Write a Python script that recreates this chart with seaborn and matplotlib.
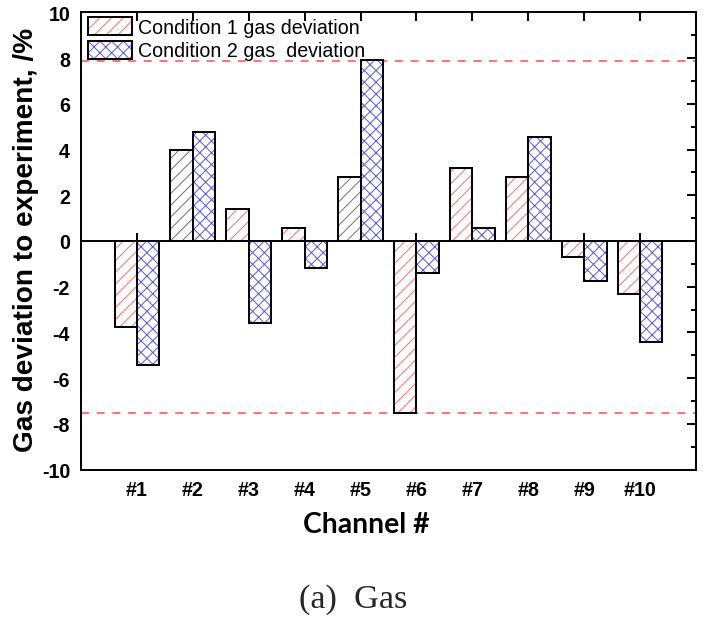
import matplotlib
matplotlib.use("Agg")
import matplotlib.pyplot as plt
import matplotlib.colors as mcolors
from matplotlib.patches import Patch
from matplotlib.ticker import MultipleLocator
import pandas as pd
import seaborn as sns

# ---- data -------------------------------------------------------------
channels = ["#1", "#2", "#3", "#4", "#5", "#6", "#7", "#8", "#9", "#10"]
cond1_dev = [-3.75, 4.0, 1.4, 0.55, 2.78, -7.5, 3.18, 2.78, -0.72, -2.3]
cond2_dev = [-5.42, 4.75, -3.58, -1.16, 7.9, -1.42, 0.55, 4.53, -1.74, -4.43]
series_labels = ["Condition 1 gas deviation", "Condition 2 gas  deviation"]
limit_upper = 7.88
limit_lower = -7.5
y_range = (-10, 10)

# ---- styling ----------------------------------------------------------
DPI = 141.2
W, H = 706, 633
RED_HATCH = "#ff7070"
GRAY_HATCH = "#707070"
BLUE_HATCH = "#5555ff"
LIMIT_RED = "#ff5050"
HATCH1, HATCH2 = "////", "xxxx"
cond1_hatch_colors = [RED_HATCH, GRAY_HATCH, RED_HATCH, RED_HATCH, GRAY_HATCH,
                      RED_HATCH, RED_HATCH, RED_HATCH, RED_HATCH, RED_HATCH]
cond2_hatch_colors = [BLUE_HATCH] * len(channels)

sns.set_style("white")
plt.rcParams["font.family"] = ["Liberation Sans", "DejaVu Sans"]
plt.rcParams["hatch.linewidth"] = 0.5
plt.rcParams["axes.unicode_minus"] = False


def set_hatch_color(patch, color):
    if hasattr(patch, "set_hatchcolor"):
        patch.set_hatchcolor(color)
    else:
        patch._hatch_color = mcolors.to_rgba(color)


df = pd.DataFrame({
    "channel": channels * 2,
    "deviation": cond1_dev + cond2_dev,
    "series": [series_labels[0]] * len(channels) + [series_labels[1]] * len(channels),
})

fig = plt.figure(figsize=(W / DPI, H / DPI), dpi=DPI)
ax = fig.add_axes([81 / W, 1 - 470.7 / H, 615 / W, 457.4 / H])

sns.barplot(data=df, x="channel", y="deviation", hue="series",
            order=channels, hue_order=series_labels,
            palette=["white", "white"], saturation=1, width=0.8,
            errorbar=None, edgecolor="black", linewidth=1.0,
            legend=False, ax=ax, zorder=3)

for cont, hatch, colors in zip(ax.containers, [HATCH1, HATCH2],
                               [cond1_hatch_colors, cond2_hatch_colors]):
    for bar, c in zip(cont, colors):
        bar.set_hatch(hatch)
        set_hatch_color(bar, c)

# limit lines
for lim in (limit_upper, limit_lower):
    ax.axhline(lim, color=LIMIT_RED, lw=0.8, ls=(0, (5, 5)), zorder=1)

# zero axis with upward ticks at each channel
zero_ax = ax.secondary_xaxis(0, transform=ax.transData)
zero_ax.set_xticks(range(len(channels)))
zero_ax.tick_params(direction="in", length=4.3, width=1.0, labelbottom=False,
                    color="black")
for sp in zero_ax.spines.values():
    sp.set_linewidth(1.0)
    sp.set_color("black")

ax.set_xlim(-1, len(channels))
ax.set_ylim(*y_range)
ax.yaxis.set_major_locator(MultipleLocator(2))
ax.yaxis.set_minor_locator(MultipleLocator(1))
ax.tick_params(which="both", direction="in", top=True, right=True,
               width=1.0, color="black")
ax.tick_params(which="major", length=4.6)
ax.tick_params(which="minor", length=2.5)
ax.tick_params(axis="y", pad=5.6)
ax.tick_params(axis="x", pad=5.5)
for lab in ax.get_xticklabels() + ax.get_yticklabels():
    lab.set_fontsize(10)
    lab.set_fontweight("bold")
    lab.set_color("black")

for sp in ax.spines.values():
    sp.set_visible(True)
    sp.set_linewidth(1.0)
    sp.set_color("black")

ax.set_ylabel("Gas deviation to experiment, /%", fontsize=14.3,
              fontweight="bold", color="black")
ax.yaxis.label.set_va("center")
ax.yaxis.set_label_coords(-0.09, 0.505)

ax.set_xlabel("Channel #", fontsize=14.5, fontweight="bold", color="black",
              family=["Lato", "DejaVu Sans"])
ax.xaxis.label.set_va("baseline")
ax.xaxis.set_label_coords(0.4645, -0.1362)

# legend
handles = []
for hatch, col, lab in zip([HATCH1, HATCH2], [RED_HATCH, BLUE_HATCH], series_labels):
    p = Patch(facecolor="white", edgecolor="black", linewidth=1.0, hatch=hatch,
              label=lab)
    set_hatch_color(p, col)
    handles.append(p)
leg = ax.legend(handles=handles, loc="upper left",
                bbox_to_anchor=(0.011, 0.99), frameon=False, fontsize=10,
                handlelength=2.25, handleheight=1.05, handletextpad=0.3,
                labelspacing=0.2, borderpad=0, borderaxespad=0)
for t in leg.get_texts():
    t.set_color("black")

fig.text(0.5, 1 - 600 / H, "(a)  Gas", ha="center", va="center",
         fontsize=17.5, family=["Liberation Serif", "DejaVu Serif"])

fig.savefig("out.png", dpi=DPI)
